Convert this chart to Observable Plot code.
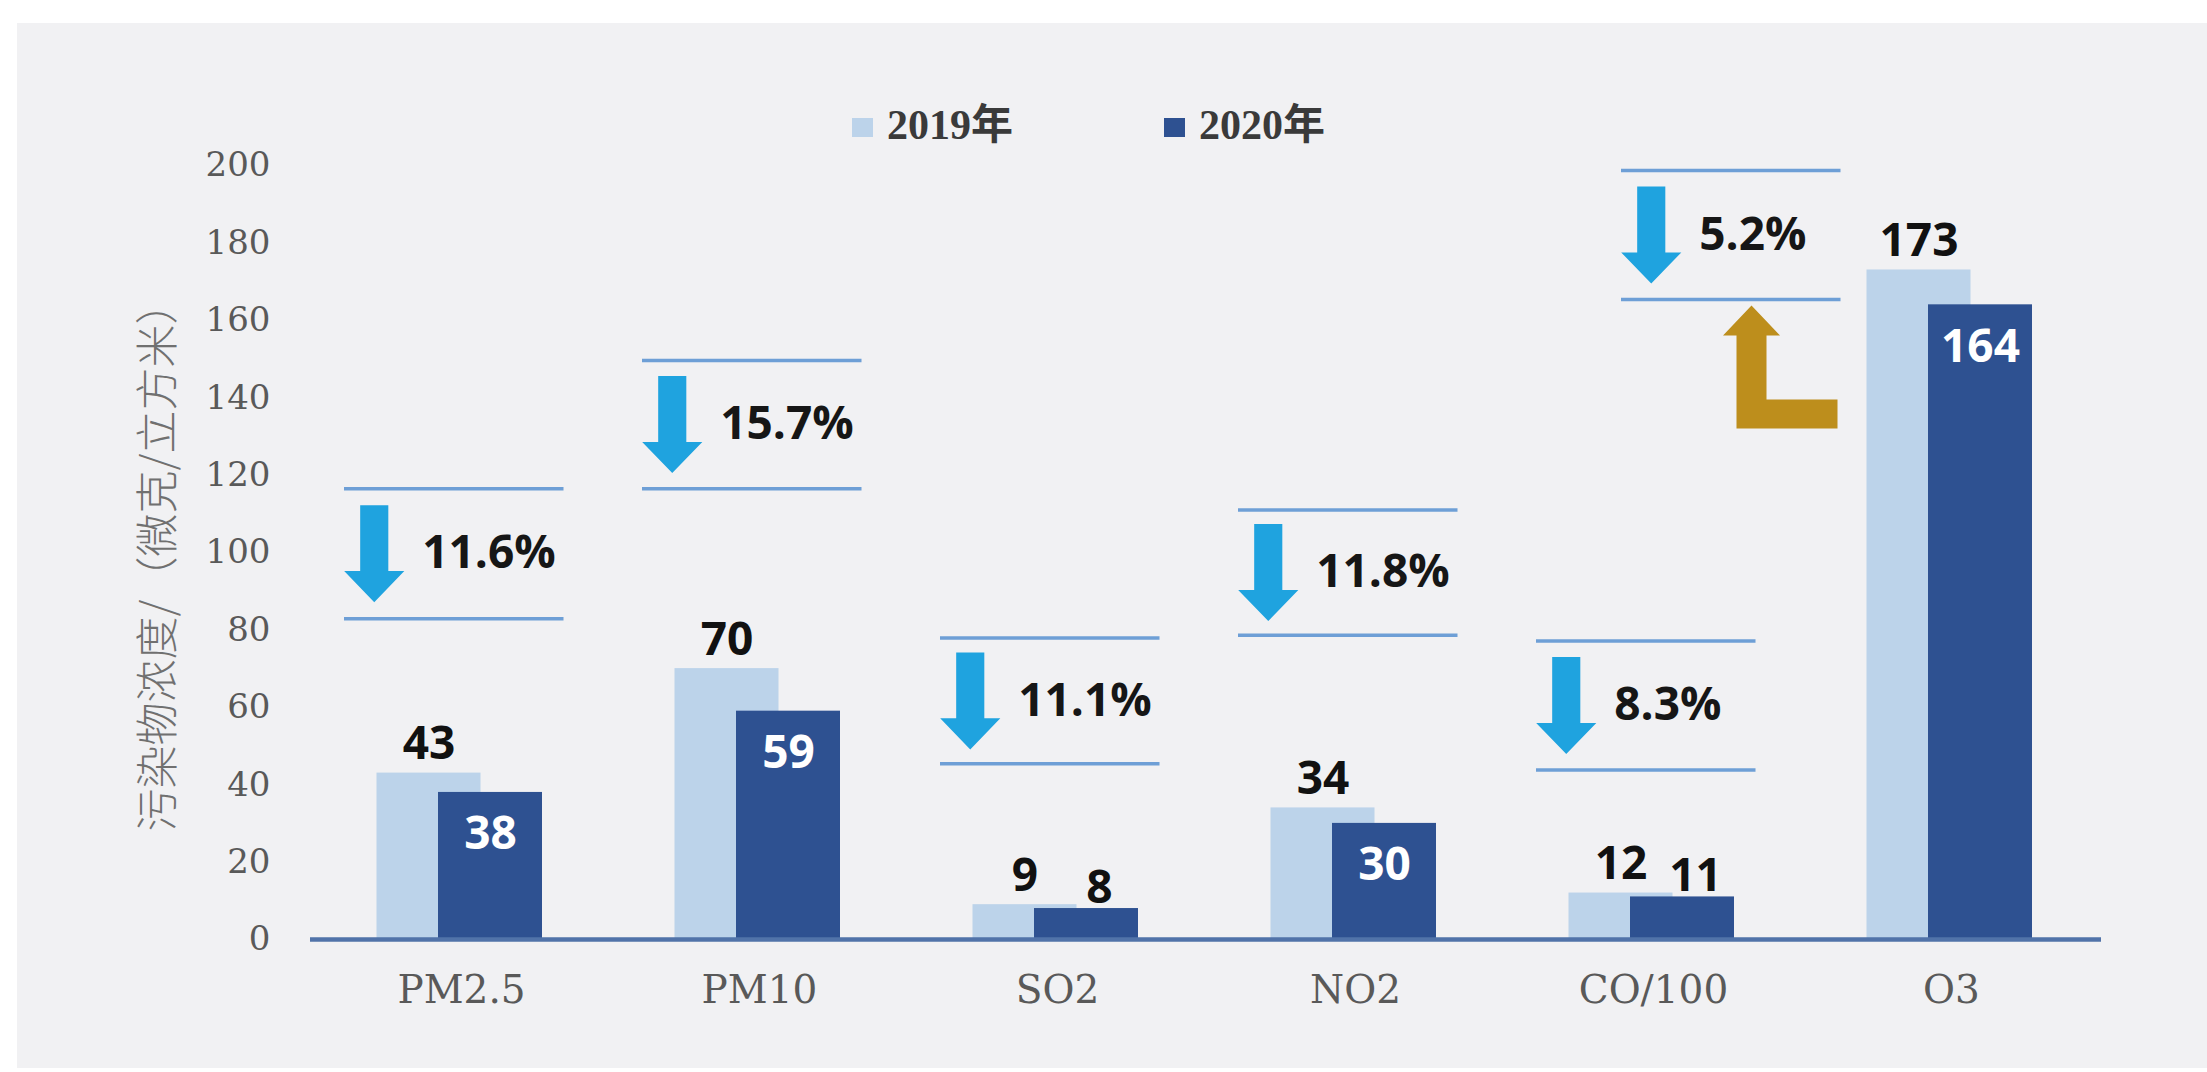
<!DOCTYPE html>
<html>
<head>
<meta charset="utf-8">
<script src="https://cdn.jsdelivr.net/npm/d3@7"></script>
<script src="https://cdn.jsdelivr.net/npm/@observablehq/plot@0.6"></script>
<style>
  html, body { margin: 0; padding: 0; background: #ffffff; width: 2207px; height: 1072px; overflow: hidden; }
  #panel { position: absolute; left: 17px; top: 23px; width: 2190px; height: 1045px; background: #f1f1f3; }
  #legend { position: absolute; left: 0; top: 0; width: 2207px; height: 150px; }
  .item { position: absolute; top: 0; height: 150px; }
  .sw { position: absolute; top: 118px; width: 21px; height: 19px; }
  .lab { position: absolute; left: 35px; top: 104px; white-space: nowrap; font: 700 42px/42px "Liberation Serif", "Noto Sans CJK SC", serif; color: #3a3a3a; }
  #chart { position: absolute; left: 0; top: 150px; }
</style>
</head>
<body>
<div id="panel"></div>
<div id="legend"></div>
<div id="chart"></div>
<script>
// ---- data ----
const categories = ["PM2.5", "PM10", "SO2", "NO2", "CO/100", "O3"];
const seriesNames = ["2019年", "2020年"];
const values2019 = [43, 70, 9, 34, 12, 173];
const values2020 = [38, 59, 8, 30, 11, 164];
const changePct = [11.6, 15.7, 11.1, 11.8, 8.3, 5.2];
const boxTop = [116.5, 149.6, 77.9, 111.0, 77.1, 198.7];
const boxBottom = [82.9, 116.5, 45.4, 78.6, 43.8, 165.4];
const yTicks = [0, 20, 40, 60, 80, 100, 120, 140, 160, 180, 200];
const yLabel = "污染物浓度/（微克/立方米）";

// ---- styles ----
const c2019 = "#bcd3ea", c2020 = "#2e5191";
const seriesColors = [c2019, c2020];
const cyan = "#1fa3df", lineBlue = "#6e9fd6", gold = "#bd8e1c", axisBlue = "#5173a9";
const sans = "Open Sans, Noto Sans, sans-serif";
const serif = "DejaVu Serif, Liberation Serif, serif";

// ---- legend ----
const legend = document.getElementById("legend");
seriesNames.forEach((name, i) => {
  const it = document.createElement("div");
  it.className = "item";
  it.style.left = (852 + i * 312) + "px";
  const sw = document.createElement("div");
  sw.className = "sw";
  sw.style.background = seriesColors[i];
  const lab = document.createElement("div");
  lab.className = "lab";
  lab.textContent = name;
  it.appendChild(sw); it.appendChild(lab);
  legend.appendChild(it);
});

// ---- tables ----
const bars2019 = categories.map((cat, i) => ({cat, value: values2019[i]}));
const bars2020 = categories.map((cat, i) => ({cat, value: values2020[i]}));
const notes = categories.map((cat, i) => ({cat, pct: changePct[i], top: boxTop[i], bottom: boxBottom[i], mid: (boxTop[i] + boxBottom[i]) / 2}));
const isInside = d => d.value >= 20;

// ---- custom symbols ----
const downArrow = {
  draw(ctx, size) {
    const h = Math.sqrt(size / Math.PI); // half height
    const H = 2 * h;
    const sw = 0.145 * H, hw = 0.31 * H, hh = 0.32 * H;
    ctx.moveTo(-sw, -h);
    ctx.lineTo(sw, -h);
    ctx.lineTo(sw, h - hh);
    ctx.lineTo(hw, h - hh);
    ctx.lineTo(0, h);
    ctx.lineTo(-hw, h - hh);
    ctx.lineTo(-sw, h - hh);
    ctx.closePath();
  }
};
const elbowArrow = {
  draw(ctx, size) {
    const k = Math.sqrt(size / Math.PI) / 100;
    const p = [[0, 6], [28.5, 36], [15, 36], [15, 100], [86, 100], [86, 129], [-15, 129], [-15, 36], [-28.5, 36]];
    ctx.moveTo(p[0][0] * k, p[0][1] * k);
    for (let j = 1; j < p.length; j++) ctx.lineTo(p[j][0] * k, p[j][1] * k);
    ctx.closePath();
  }
};

// ---- layout ----
const W = 2207, H = 900;
const mLeft = 310, mRight = 106, mTop = 15, mBottom = 111;
const band = (W - mLeft - mRight) / categories.length;
const bar19 = {insetLeft: 64.5, insetRight: band - 169};
const bar20 = {insetLeft: 126, insetRight: band - 230.5};
const c19 = (bar19.insetLeft + band - bar19.insetRight) / 2 - band / 2;
const c20 = (bar20.insetLeft + band - bar20.insetRight) / 2 - band / 2;

function noteMarks(data, shift) {
  return [
    Plot.ruleY(data, {x1: "cat", x2: "cat", y: "top", stroke: lineBlue, strokeWidth: 3.5, insetLeft: 32, insetRight: band - 252, dx: shift}),
    Plot.ruleY(data, {x1: "cat", x2: "cat", y: "bottom", stroke: lineBlue, strokeWidth: 3.5, insetLeft: 32, insetRight: band - 252, dx: shift}),
    Plot.dot(data, {x: "cat", y: "mid", symbol: downArrow, r: 48.5, fill: cyan, stroke: "none", dx: 62 - band / 2 + shift}),
    Plot.text(data, {x: "cat", y: "mid", text: d => d.pct.toFixed(1) + "%", textAnchor: "start", lineAnchor: "middle",
      dx: 110 - band / 2 + shift, fontSize: 46, fontWeight: 700, fontFamily: sans, fill: "#161616"})
  ];
}
const o3Shift = -213;

const plot = Plot.plot({
  width: W, height: H,
  marginLeft: mLeft, marginRight: mRight, marginTop: mTop, marginBottom: mBottom,
  style: {background: "transparent", fontFamily: serif, overflow: "visible"},
  x: {type: "band", domain: categories, padding: 0},
  y: {domain: [0, 200]},
  marks: [
    Plot.axisX({tickSize: 0, tickPadding: 36, fontSize: 39, fontFamily: serif, color: "#595959", label: null}),
    Plot.axisY({ticks: yTicks, tickSize: 0, tickPadding: 40, fontSize: 34, fontFamily: serif, color: "#595959", label: null}),
    Plot.text([yLabel], {text: d => d, frameAnchor: "left", textAnchor: "middle", lineAnchor: "middle", rotate: -90, dx: -151, dy: 4, fontSize: 43,
      fontFamily: "Noto Sans CJK SC", fontWeight: 300, fill: "#707070"}),
    Plot.barY(bars2019, {x: "cat", y: "value", fill: c2019, ...bar19}),
    Plot.barY(bars2020, {x: "cat", y: "value", fill: c2020, ...bar20}),
    Plot.ruleY([0], {stroke: axisBlue, strokeWidth: 4.5}),
    Plot.text(bars2019, {x: "cat", y: "value", text: "value", dx: c19, dy: -14, lineAnchor: "bottom",
      fontSize: 46, fontWeight: 700, fontFamily: sans, fill: "#111"}),
    Plot.text(bars2020.filter(isInside), {x: "cat", y: "value", text: "value", dx: c20, dy: 42, lineAnchor: "middle",
      fontSize: 46, fontWeight: 700, fontFamily: sans, fill: "#ffffff"}),
    Plot.text(bars2020.filter(d => !isInside(d)), {x: "cat", y: "value", text: "value", dx: c20 + 13, dy: -6, lineAnchor: "bottom",
      fontSize: 46, fontWeight: 700, fontFamily: sans, fill: "#111"}),
    ...noteMarks(notes.filter(d => d.cat !== "O3"), 0),
    ...noteMarks(notes.filter(d => d.cat === "O3"), o3Shift),
    Plot.dot(notes.filter(d => d.cat === "O3"), {x: "cat", y: "bottom", symbol: elbowArrow, r: 100, fill: gold, stroke: "none", dx: -200})
  ]
});
document.getElementById("chart").appendChild(plot);
</script>
</body>
</html>
